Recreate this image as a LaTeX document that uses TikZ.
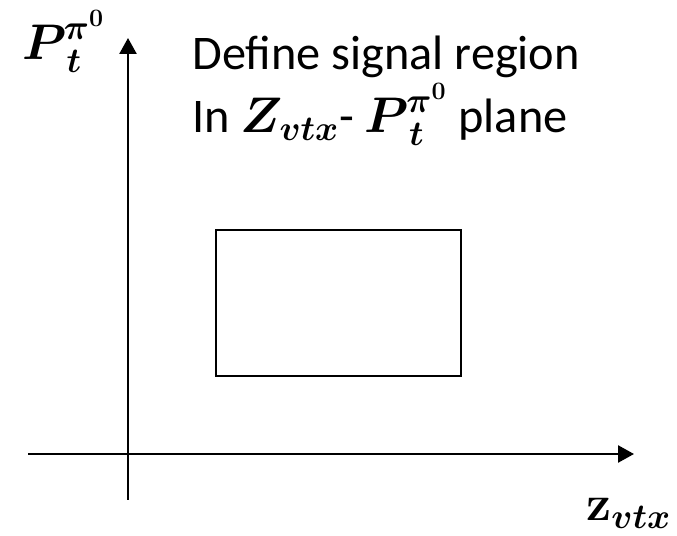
\RequirePackage{fix-cm}
\documentclass[tikz,border=0pt]{standalone}
\usepackage{amsmath,amssymb}
\usepackage[no-math]{fontspec}
\setmainfont{Carlito}
\usepackage{tikz}
\usetikzlibrary{arrows.meta,positioning}
\newcommand{\bigmath}[1]{{\fontsize{28.5}{34}\selectfont$#1$}}
\newcommand{\ptpi}{\boldsymbol{P}_{\boldsymbol{t}}^{\kern-1.5pt\boldsymbol{\pi}^{\mathbf{0}}}}

\begin{document}
\begin{tikzpicture}[
  x=0.02cm, y=-0.02cm,
  axis/.style={-{Triangle[length=0.32cm,width=0.34cm]}, line width=1.4pt},
  sigbox/.style={rectangle, draw, line width=1.4pt, minimum width=4.9cm,
    minimum height=2.92cm, inner sep=0pt},
  lbl/.style={font=\fontsize{27.5}{33}\selectfont, inner sep=0pt, anchor=base west}
]
\useasboundingbox (0,0) rectangle (677,536);
\coordinate (ybot)   at (128,500);
\coordinate (ytop)   at (128,38);
\coordinate (xleft)  at (28,454);
\coordinate (xright) at (634,454);
\draw[axis] (ybot) -- (ytop);
\draw[axis] (xleft) -- (xright);
\node[sigbox] (region) at (338.5,303) {};
\node[lbl] (ylabel) at (22,60)  {\bigmath{\ptpi}};
\node[lbl] (xlabel) at (586,521) {\bigmath{\mathbf{z}_{\boldsymbol{vtx}}}};
\node[lbl] (line1)  at (192,70)  {Define signal region};
\node[lbl] (line2)  at (192,133) {In \bigmath{\boldsymbol{Z_{vtx}}}- \bigmath{\ptpi} plane};
\end{tikzpicture}
\end{document}
